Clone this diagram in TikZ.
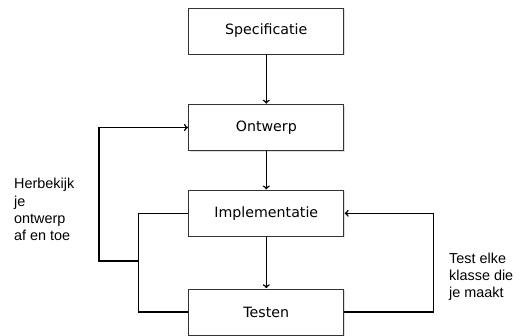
\documentclass[tikz,border=0pt]{standalone}
\usepackage{fontspec}
\setmainfont{DejaVu Sans}
\newfontfamily\notefont{Liberation Sans}
\usetikzlibrary{arrows,shadows}
\usetikzlibrary{positioning}

\begin{document}
\begin{tikzpicture}
    [x=1pt, y=-1pt,
     phase/.style={draw=black!80, line width=0.8pt, fill=white, minimum width=155pt,
       minimum height=46pt, inner sep=0pt, font=\fontsize{14.2}{17}\selectfont,
       drop shadow={shadow xshift=1pt, shadow yshift=-1pt, opacity=0.25}},
     note/.style={align=left, inner sep=0pt, anchor=west,
       font=\notefont\fontsize{14.4}{17.2}\selectfont},
     flow/.style={line width=1.5pt, ->, >=to, shorten >=0.5pt}]
    \useasboundingbox (0,0) rectangle (532,335);

    \node (spec) [phase] at (266.3,31) {Specificatie};
    \node (ontw) [phase, below = 49.7pt of spec] {Ontwerp};
    \node (impl) [phase, below = 39pt of ontw] {Implementatie};
    \node (test) [phase, below = 52pt of impl] {Testen};

    \coordinate (jl) at (138.3,261);
    \coordinate (ol) at (99,261);
    \coordinate (rr) at (433.3,261);

    \draw[flow] (spec) -- (ontw);
    \draw[flow] (ontw) -- (impl);
    \draw[flow] (impl) -- (test);

    \draw[flow, -] (test.west) -| (jl) |- (impl.west);
    \draw[flow] (jl) -- (ol) |- (ontw.west);
    \draw[flow] (test.east) -| (rr) |- (impl.east);

    \node (herb) [note] at (14,209.5) {Herbekijk\\je\\ontwerp\\af en toe};
    \node (elke) [note] at (449,277) {Test elke\\klasse die\\je maakt};

  \end{tikzpicture}
\end{document}
